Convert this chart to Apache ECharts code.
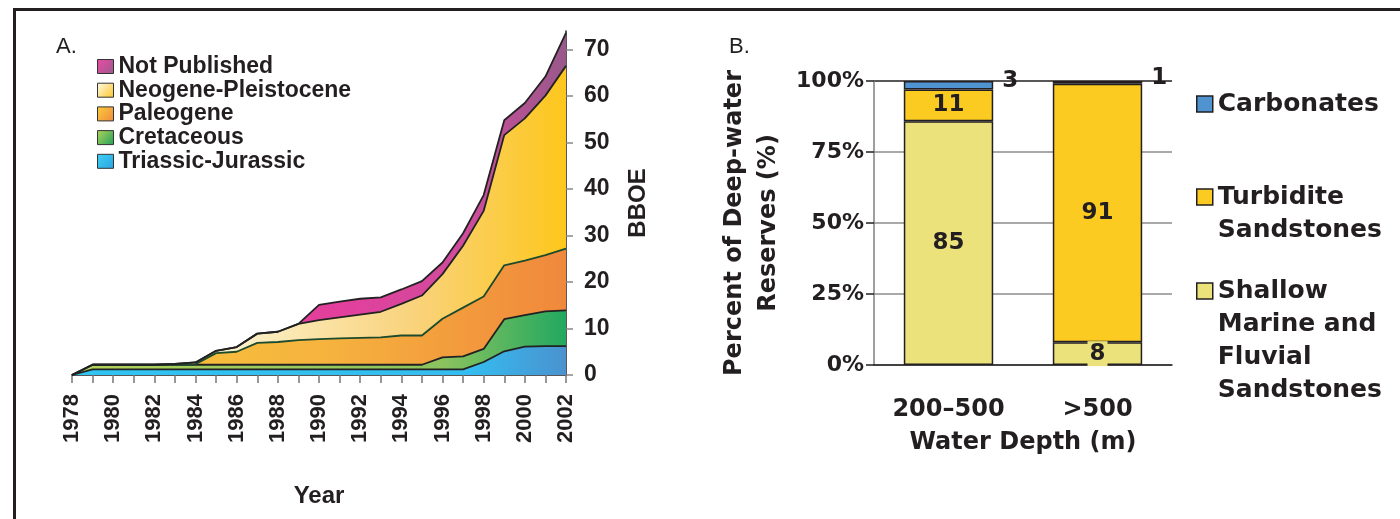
<!DOCTYPE html>
<html><head><meta charset="utf-8">
<script src="https://cdn.jsdelivr.net/npm/echarts@6/dist/echarts.min.js"></script>
<style>html,body{margin:0;padding:0;background:#fff}#c{width:1400px;height:519px}</style>
</head><body><div id="c"></div>
<script>
// ---------- Panel A data (BBOE, per-layer thickness) ----------
const years = ['1978','1979','1980','1981','1982','1983','1984','1985','1986','1987','1988','1989','1990',
               '1991','1992','1993','1994','1995','1996','1997','1998','1999','2000','2001','2002'];
const triassicJurassic = [0,1.2,1.2,1.2,1.2,1.2,1.2,1.2,1.2,1.2,1.2,1.2,1.2,1.2,1.2,1.2,1.2,1.2,1.2,1.2,2.8,5.1,6.1,6.2,6.2];
const cretaceous       = [0,1.0,1.0,1.0,1.0,1.0,1.0,1.0,1.0,1.0,1.0,1.0,1.0,1.0,1.0,1.0,1.0,1.0,2.6,2.8,2.8,6.9,6.8,7.5,7.7];
const paleogene        = [0,0,0,0,0,0,0.1,2.5,2.8,4.7,4.9,5.3,5.5,5.7,5.8,5.9,6.3,6.3,8.3,10.5,11.3,11.6,11.7,12.1,13.3];
const neogenePleist    = [0,0,0,0,0,0.2,0.4,0.5,1.0,2.0,2.2,3.5,4.1,4.5,5.0,5.5,6.8,8.6,9.6,13.3,18.4,28.0,30.6,34.3,39.3];
const notPublished     = [0,0,0,0,0,0,0,0,0,0,0,0,3.3,3.4,3.4,3.1,3.1,3.1,2.5,2.7,3.4,3.2,3.3,4.1,7.1];
const bboeTicks = [0,10,20,30,40,50,60,70];

// ---------- Panel B data (percent of deep-water reserves) ----------
const depthCategories = ['200\u2013500', '>500'];
const shallowMarine = [85, 8];
const turbidite = [11, 91];
const carbonates = [3, 1];
const legendLinesB = {
  'Carbonates': ['Carbonates'],
  'Turbidite Sandstones': ['Turbidite', 'Sandstones'],
  'Shallow Marine and Fluvial Sandstones': ['Shallow', 'Marine and', 'Fluvial', 'Sandstones']
};

const totals = depthCategories.map((_, i) => shallowMarine[i] + turbidite[i] + carbonates[i]);
const pct = arr => arr.map((v, i) => v / totals[i] * 100);

const FA = "'Liberation Sans', Arial, Helvetica, sans-serif";
const FB = "'DejaVu Sans', Verdana, sans-serif";
const INK = '#231f20';
const G = echarts.graphic.LinearGradient;
const X0 = 72, X1 = 566;
const hgrad = stops => new G(X0, 0, X1, 0, stops.map(c => ({offset: c[0], color: c[1]})), true);
const dgrad = (a, b) => new G(0, 0, 1, 1, [{offset: 0, color: a}, {offset: 1, color: b}]);

const areaDefs = [
  {name: 'Triassic-Jurassic', data: triassicJurassic, fill: hgrad([[0,'#30c4f2'],[0.8,'#34bdf0'],[1,'#4a92cf']]), line: '#222', icon: dgrad('#3fd0f7', '#2aa3e0')},
  {name: 'Cretaceous', data: cretaceous, fill: hgrad([[0,'#b3d35c'],[0.75,'#8cc35e'],[1,'#22a860']]), line: '#222', icon: dgrad('#b6d65a', '#1f9f5a')},
  {name: 'Paleogene', data: paleogene, fill: hgrad([[0,'#f8c63a'],[0.5,'#f6b43e'],[1,'#f0883c']]), line: '#1c4a2c', icon: dgrad('#fbcd3c', '#ef8a3e')},
  {name: 'Neogene-Pleistocene', data: neogenePleist, fill: hgrad([[0,'#fdf8e4'],[0.35,'#fbefc6'],[0.7,'#f9d27a'],[1,'#fdc71c']]), line: '#222', icon: dgrad('#fffbe8', '#fcc52a')},
  {name: 'Not Published', data: notPublished, fill: hgrad([[0,'#ea3c9c'],[0.55,'#e2409c'],[0.8,'#cf4c9c'],[1,'#98598a']]), line: '#222', icon: dgrad('#ee4aa6', '#9a5b8c')}
];

const seriesA = areaDefs.map(d => ({
  name: d.name, type: 'line', xAxisIndex: 0, yAxisIndex: 0, stack: 'bboe',
  data: d.data, symbol: 'none', smooth: false,
  lineStyle: {color: d.line, width: 1.8},
  itemStyle: {color: d.line},
  areaStyle: {color: d.fill, opacity: 1},
  emphasis: {disabled: true}, silent: true, animation: false
}));

const barLabel = (raw, extra) => Object.assign({
  show: true, fontFamily: FB, fontWeight: 'bold', fontSize: 23, color: INK,
  formatter: p => String(raw[p.dataIndex])
}, extra);

const seriesB = [
  {name: 'Shallow Marine and Fluvial Sandstones', raw: shallowMarine, color: '#ebe27b',
   label: barLabel(shallowMarine, {position: 'inside', backgroundColor: '#ebe27b', padding: [1, 2]})},
  {name: 'Turbidite Sandstones', raw: turbidite, color: '#fccb22',
   label: barLabel(turbidite, {position: 'inside'})},
  {name: 'Carbonates', raw: carbonates, color: '#4f94d0',
   label: barLabel(carbonates, {position: 'right', distance: 9, offset: [0, -4]})}
].map(s => ({
  name: s.name, type: 'bar', xAxisIndex: 1, yAxisIndex: 1, stack: 'pct',
  data: pct(s.raw), barWidth: '60%',
  itemStyle: {color: s.color, borderColor: INK, borderWidth: 1.5},
  label: s.label, emphasis: {disabled: true}, silent: true, animation: false
}));

// legend text is vertically centred on its icon, so pad with leading blank lines
// to keep the first line level with the icon
const legendB = (name, iconY) => {
  const n = legendLinesB[name].length, lh = 33;
  const blockH = (2 * n - 1) * lh;
  return {
    orient: 'vertical', left: 1196, top: iconY - blockH / 2, padding: 0,
    itemWidth: 16, itemHeight: 16, icon: 'rect', selectedMode: false,
    data: [{name: name, itemStyle: {borderColor: INK, borderWidth: 1.5}}],
    formatter: nm => {
      const lines = legendLinesB[nm];
      return new Array(lines.length - 1).fill(' ').concat(lines).join('\n');
    },
    textStyle: {fontFamily: FB, fontWeight: 'bold', fontSize: 25, color: INK, lineHeight: lh}
  };
};

const option = {
  backgroundColor: '#fff',
  animation: false,
  title: [
    {text: 'A.', left: 51, top: 31, textStyle: {fontFamily: FA, fontWeight: 'normal', fontSize: 22, color: INK}},
    {text: 'B.', left: 724, top: 31, textStyle: {fontFamily: FA, fontWeight: 'normal', fontSize: 22, color: INK}}
  ],
  graphic: [{type: 'rect', shape: {x: 14.5, y: 9.5, width: 1420, height: 540},
             style: {fill: 'none', stroke: INK, lineWidth: 3}, silent: true}],
  legend: [
    {orient: 'vertical', left: 97, top: 55, padding: 0, itemWidth: 16, itemHeight: 14, itemGap: 0.7,
     icon: 'rect', selectedMode: false,
     data: areaDefs.slice().reverse().map(d => ({name: d.name, itemStyle: {color: d.icon, borderColor: '#333', borderWidth: 1}})),
     textStyle: {fontFamily: FA, fontWeight: 'bold', fontSize: 23, color: INK, lineHeight: 23}},
    legendB('Carbonates', 104),
    legendB('Turbidite Sandstones', 197),
    legendB('Shallow Marine and Fluvial Sandstones', 291)
  ],
  grid: [
    {left: X0, right: 1400 - X1, top: 31, bottom: 144},
    {left: 874, right: 228, top: 81, bottom: 154}
  ],
  xAxis: [
    {type: 'category', gridIndex: 0, data: years, boundaryGap: false,
     axisLine: {lineStyle: {color: INK, width: 1.5}},
     axisTick: {interval: 0, length: 8, lineStyle: {color: '#777', width: 1.5}},
     axisLabel: {interval: 1, rotate: 90, margin: 19, fontFamily: FA, fontWeight: 'bold', fontSize: 22, color: INK},
     name: 'Year', nameLocation: 'middle', nameGap: 109,
     nameTextStyle: {fontFamily: FA, fontWeight: 'bold', fontSize: 24, color: INK}},
    {type: 'category', gridIndex: 1, data: depthCategories,
     axisLine: {lineStyle: {color: INK, width: 1.5}},
     axisTick: {length: 10, lineStyle: {color: '#7f7f7f', width: 1.5}},
     axisLabel: {margin: 33, fontFamily: FB, fontWeight: 'bold', fontSize: 24, color: INK},
     name: 'Water Depth (m)', nameLocation: 'middle', nameGap: 66,
     nameTextStyle: {fontFamily: FB, fontWeight: 'bold', fontSize: 24, color: INK}}
  ],
  yAxis: [
    {type: 'value', gridIndex: 0, position: 'right', min: 0, max: 74, interval: 10,
     axisLine: {show: true, lineStyle: {color: INK, width: 1.5}},
     axisTick: {show: true, length: 7, customValues: bboeTicks, lineStyle: {color: '#888', width: 1.5}},
     axisLabel: {customValues: bboeTicks, margin: 18, fontFamily: FA, fontWeight: 'bold', fontSize: 23, color: INK},
     splitLine: {show: false},
     name: 'BBOE', nameLocation: 'middle', nameRotate: 90, nameGap: 60,
     nameTextStyle: {fontFamily: FA, fontWeight: 'bold', fontSize: 24, color: INK}},
    {type: 'value', gridIndex: 1, min: 0, max: 100, interval: 25,
     axisLine: {show: true, lineStyle: {color: '#7f7f7f', width: 1.5}},
     axisTick: {show: true, length: 8, lineStyle: {color: INK, width: 1.5}},
     axisLabel: {margin: 10, formatter: '{value}%', fontFamily: FB, fontWeight: 'bold', fontSize: 22, color: INK},
     splitLine: {show: true, lineStyle: {color: ['#8c8c8c','#8c8c8c','#8c8c8c','#8c8c8c', INK], width: 1.5}},
     name: 'Percent of Deep-water\nReserves (%)', nameLocation: 'middle', nameRotate: 90, nameGap: 88,
     nameTextStyle: {fontFamily: FB, fontWeight: 'bold', fontSize: 24, color: INK, lineHeight: 34}}
  ],
  series: seriesA.concat(seriesB)
};

const chart = echarts.init(document.getElementById('c'), null, {renderer: 'canvas'});
chart.setOption(option);
</script>
</body></html>
